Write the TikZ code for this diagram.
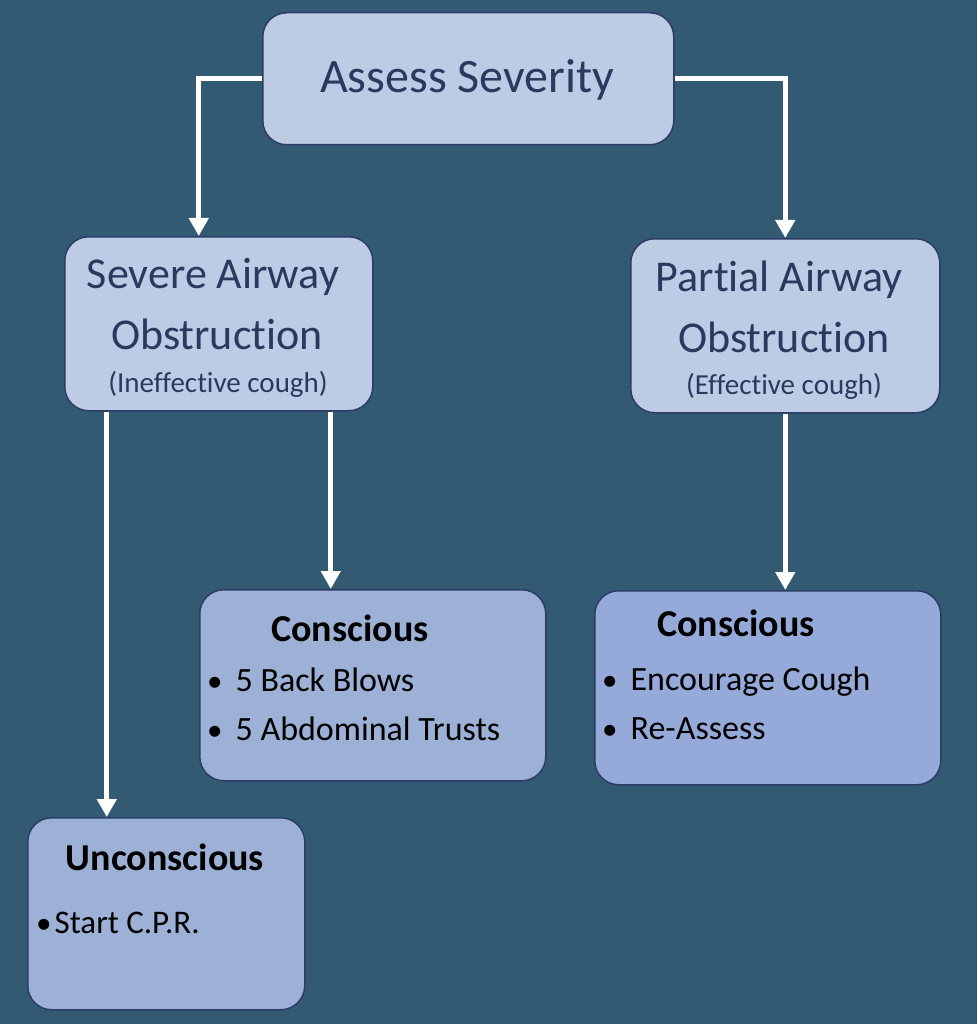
\documentclass[tikz,border=0pt]{standalone}
\usepackage{fontspec}
\setmainfont{Carlito}[Ligatures={NoCommon}]
\usetikzlibrary{arrows.meta,calc}
\definecolor{bg}{HTML}{335A73}
\definecolor{boxlight}{HTML}{BDCCE4}
\definecolor{boxmid}{HTML}{9DB1D6}
\definecolor{boxblue}{HTML}{96AADA}
\definecolor{boxline}{HTML}{2C3C66}
\definecolor{navytext}{HTML}{283A5E}
\newcommand{\bul}{{\fontsize{31}{34}\selectfont •}}
\tikzset{
  box/.style={draw=boxline, line width=1.5pt, rounded corners=24pt, inner sep=0pt, anchor=north west},
  link/.style={draw=white, line width=5pt, -{Triangle[width=19pt,length=18pt]}},
  hd/.style={text=navytext, inner sep=0pt},
  ttl/.style={text=black, inner sep=0pt, font=\bfseries\fontsize{38}{44}\selectfont},
  itm/.style={text=black, inner sep=0pt, anchor=west, font=\fontsize{34}{40}\selectfont},
}
\begin{document}
\begin{tikzpicture}[x=1pt,y=-1pt]
\fill[bg] (0,0) rectangle (977,1024);
\useasboundingbox (0,0) rectangle (977,1024);

\node[box, fill=boxlight, minimum width=411pt, minimum height=132pt] (assess) at (262,12) {};
\node[box, fill=boxlight, minimum width=308pt, minimum height=174pt] (severe) at (64,236) {};
\node[box, fill=boxlight, minimum width=309pt, minimum height=174pt] (partial) at (630,238) {};
\node[box, fill=boxmid, minimum width=346pt, minimum height=191pt] (consL) at (199,589) {};
\node[box, fill=boxblue, minimum width=346pt, minimum height=194pt] (consR) at (594,590) {};
\node[box, fill=boxmid, minimum width=277pt, minimum height=192pt] (unc) at (27,817) {};

% texts
\node[hd, font=\fontsize{48}{56}\selectfont] (tA) at (467,80) {Assess Severity};
\node[hd, font=\fontsize{44}{50}\selectfont] (tS1) at (213,277) {Severe Airway};
\node[hd, font=\fontsize{44}{50}\selectfont] (tS2) at (217,334) {Obstruction};
\node[hd, font=\fontsize{29}{34}\selectfont] (tS3) at (218,384) {(Ineffective cough)};
\node[hd, font=\fontsize{44}{50}\selectfont] (tP1) at (779,280) {Partial Airway};
\node[hd, font=\fontsize{44}{50}\selectfont] (tP2) at (784,337) {Obstruction};
\node[hd, font=\fontsize{29}{34}\selectfont] (tP3) at (784,386) {(Effective cough)};

\node[ttl] (tCL) at (350,628) {Conscious};
\node[itm] (iL1) at (207,680) {\bul\hspace{13pt}5 Back Blows};
\node[itm] (iL2) at (207,729) {\bul\hspace{13pt}5 Abdominal Trusts};

\node[ttl] (tCR) at (736,623) {Conscious};
\node[itm] (iR1) at (602,682) {\bul\hspace{13pt}Encourage Cough};
\node[itm] (iR2) at (602,729) {\bul\hspace{13pt}Re-Assess};

\node[ttl] (tU) at (165,857) {Unconscious};
\node[itm, font=\fontsize{33}{40}\selectfont] (iU1) at (36,923) {\bul\hspace{3pt}Start C.P.R.};

% connectors
\draw[link] (assess.west) -| ([xshift=-20pt]severe.north);
\draw[link] (assess.east) -| (partial.north);
\draw[link] ([xshift=-112pt]severe.south) -- ([xshift=-112pt]severe.south |- unc.north);
\draw[link] ([xshift=112pt]severe.south) -- ([xshift=112pt]severe.south |- consL.north);
\draw[link] (partial.south) -- (partial.south |- consR.north);
\end{tikzpicture}
\end{document}
